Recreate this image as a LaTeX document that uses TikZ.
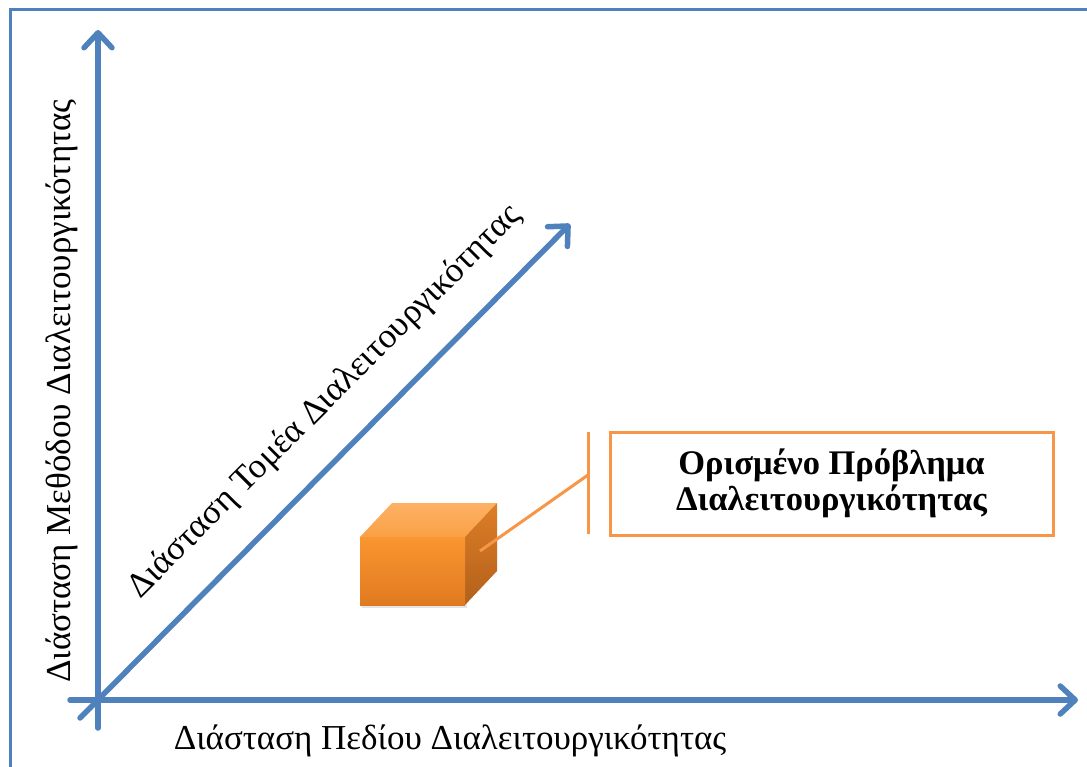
\documentclass[tikz,border=0pt]{standalone}
\usepackage{fontspec}
\setmainfont{Liberation Serif}
\usetikzlibrary{arrows.meta}

\definecolor{axisblue}{RGB}{79,129,189}
\definecolor{calloutorange}{RGB}{247,150,70}
\definecolor{cubefronttop}{RGB}{250,150,48}
\definecolor{cubefrontbot}{RGB}{224,122,32}
\definecolor{cubetoptop}{RGB}{252,178,100}
\definecolor{cubetopbot}{RGB}{250,160,70}
\definecolor{cubesidetop}{RGB}{222,126,38}
\definecolor{cubesidebot}{RGB}{178,96,28}

\tikzset{
  axis/.style={axisblue, line width=5.5pt, line cap=round,
    -{Straight Barb[length=15pt, width=28pt, line cap=round, line join=round]}},
  axislabel/.style={font=\fontsize{35}{40}\selectfont, inner sep=0pt},
  probbox/.style={draw=calloutorange, line width=3pt, fill=white,
    minimum width=443pt, minimum height=103pt, align=center,
    font=\fontsize{34.5}{36}\selectfont\bfseries},
  callout/.style={calloutorange, line width=3pt},
}

\begin{document}
\begin{tikzpicture}[x=1pt, y=-1pt]
\useasboundingbox (0,0) rectangle (1087,767);
\begin{scope}
\clip (0,0) rectangle (1087,767);
% outer frame (runs past the right and bottom edges)
\draw[axisblue, line width=3pt] (10,10) rectangle (1110,790);

% axis end points
\coordinate (yfoot) at (98,728);
\coordinate (ytip)  at (98,30);
\coordinate (xfoot) at (70,700);
\coordinate (xtip)  at (1078,700);
\coordinate (zfoot) at (80,718);
\coordinate (ztip)  at (570,224);

\draw[axis] (yfoot) -- (ytip);
\draw[axis] (xfoot) -- (xtip);
\draw[axis] (zfoot) -- (ztip);

% axis labels
\node[axislabel] (xlabel) at (450,741) {Διάσταση Πεδίου Διαλειτουργικότητας};
\node[axislabel, rotate=90] (ylabel) at (62,391) {Διάσταση Μεθόδου Διαλειτουργικότητας};
\node[axislabel, rotate=45] (zlabel) at (325,402) {Διάσταση Τομέα Διαλειτουργικότητας};

% the cube
\fill[black!30, opacity=0.35] (362,539) rectangle (467,608);
\shade[top color=cubetoptop, bottom color=cubetopbot]
  (360,537) -- (392,503) -- (497,503) -- (465,537) -- cycle;
\shade[top color=cubesidetop, bottom color=cubesidebot]
  (465,537) -- (497,503) -- (497,571) -- (465,605) -- cycle;
\shade[top color=cubefronttop, bottom color=cubefrontbot]
  (360,537) rectangle (465,605);

% callout
\coordinate (cubeanchor) at (480,551);
\coordinate (bartop) at (588,432);
\coordinate (barbot) at (588,534);
\coordinate (barmid) at (588,475);
\draw[callout] (bartop) -- (barbot);
\draw[callout] (cubeanchor) -- (barmid);

\node[probbox] (problem) at (831.5,483.5) {Ορισμένο Πρόβλημα\\Διαλειτουργικότητας};
\end{scope}
\end{tikzpicture}
\end{document}
